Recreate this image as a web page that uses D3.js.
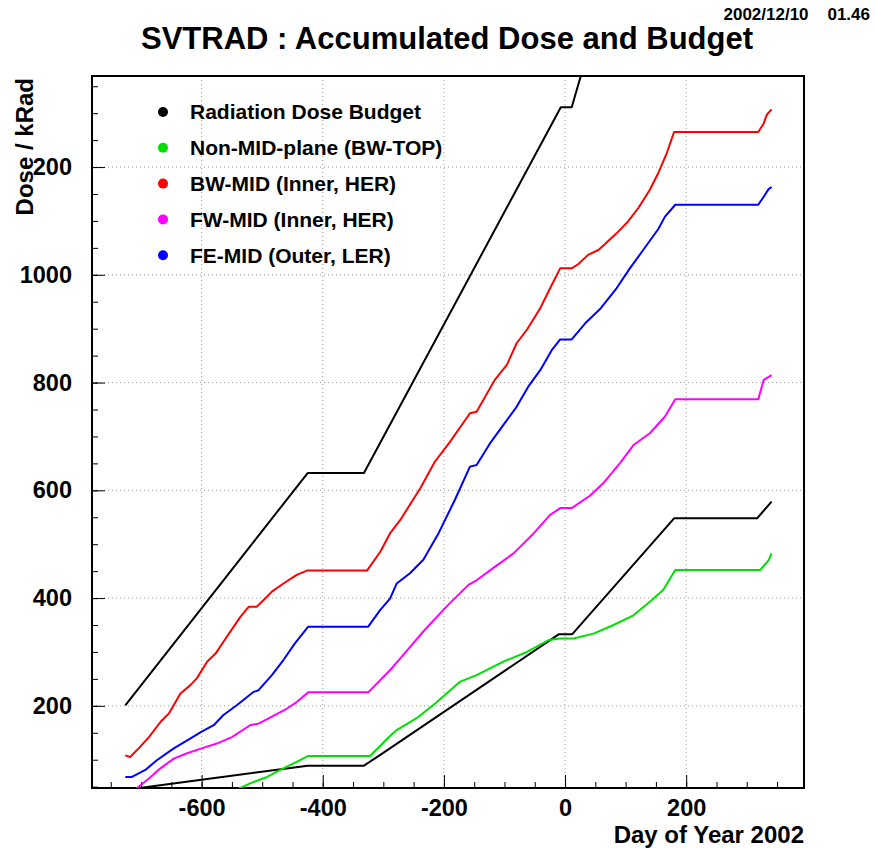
<!DOCTYPE html>
<html>
<head>
<meta charset="utf-8">
<script src="https://cdn.jsdelivr.net/npm/d3@7"></script>
<style>
  body { margin: 0; background: #fff; }
  text { font-family: "Liberation Sans", Arial, sans-serif; font-weight: bold; }
</style>
</head>
<body>
<script>
// series: day of year 2002 vs accumulated dose (kRad)
var budgetHighDays = [-726, -425, -332, -7, 11, 26];
var budgetHighDose = [201, 632, 632, 1311, 1311, 1369];

var budgetLowDays = [-726, -425, -332, -305, -10, 12, 180, 317, 341];
var budgetLowDose = [44, 89, 89, 109, 333, 333, 548, 548, 579];

var greenDays = [-560, -545, -520, -492, -465, -443, -424, -322, -305, -289, -278, -245, -215, -173, -146, -102, -63, -27, -8, 14, 47, 80, 113, 140, 162, 182, 322, 336, 341];
var greenDose = [35, 43, 56, 68, 84, 96, 107, 107, 126, 144, 155, 177, 204, 245, 257, 282, 300, 322, 325, 325, 334, 350, 368, 393, 415, 452, 452, 470, 483];

var redDays = [-726, -718, -704, -687, -668, -654, -635, -619, -608, -591, -577, -564, -547, -536, -522, -509, -498, -484, -465, -443, -426, -327, -305, -289, -272, -239, -215, -190, -157, -146, -116, -96, -80, -63, -41, -22, -8, 11, 22, 38, 55, 66, 85, 104, 121, 140, 154, 168, 180, 319, 328, 333, 341];
var redDose = [108, 105, 121, 142, 170, 186, 223, 238, 251, 282, 297, 319, 347, 365, 384, 384, 396, 412, 427, 443, 451, 451, 486, 520, 545, 604, 653, 690, 743, 746, 805, 833, 873, 898, 938, 981, 1012, 1012, 1020, 1037, 1046, 1057, 1077, 1099, 1124, 1158, 1189, 1226, 1265, 1265, 1281, 1297, 1307];

var magentaDays = [-726, -704, -687, -668, -646, -624, -600, -575, -550, -520, -506, -484, -459, -443, -424, -325, -289, -272, -234, -195, -159, -146, -116, -85, -52, -25, -8, 11, 41, 63, 91, 113, 140, 165, 182, 319, 328, 341];
var magentaDose = [30, 50, 65, 84, 102, 112, 121, 130, 142, 164, 167, 180, 195, 207, 225, 225, 266, 288, 338, 385, 425, 433, 458, 483, 520, 554, 567, 567, 590, 613, 651, 684, 706, 737, 769, 769, 805, 814];

var blueDays = [-726, -715, -693, -674, -646, -619, -600, -580, -564, -542, -514, -506, -484, -465, -446, -424, -325, -305, -289, -278, -256, -234, -209, -182, -157, -146, -124, -102, -80, -61, -41, -22, -8, 11, 35, 59, 85, 107, 129, 154, 165, 182, 319, 328, 336, 341];
var blueDose = [68, 68, 81, 99, 121, 139, 152, 164, 183, 201, 226, 229, 257, 285, 316, 347, 347, 378, 399, 427, 446, 471, 520, 582, 644, 647, 687, 721, 755, 792, 823, 860, 880, 880, 912, 938, 975, 1012, 1046, 1085, 1108, 1130, 1130, 1145, 1159, 1163];

var legendLabels = ['Radiation Dose Budget', 'Non-MID-plane (BW-TOP)', 'BW-MID (Inner, HER)', 'FW-MID (Inner, HER)', 'FE-MID (Outer, LER)'];
var legendColors = ['#000000', '#00e000', '#ff0000', '#ff00ff', '#0000ff'];

var xMajorTicks = [-600, -400, -200, 0, 200];
var xTickLabels = ['-600', '-400', '-200', '0', '200'];
var yMajorTicks = [200, 400, 600, 800, 1000, 1200];
var yTickLabels = ['200', '400', '600', '800', '1000', '200'];

var W = 875, H = 848;
var L = 92, R = 804, T = 76, B = 788;

var svg = d3.select('body').append('svg')
  .attr('width', W)
  .attr('height', H);

var x = d3.scaleLinear().domain([-781, 394.5]).range([L, R]);
var y = d3.scaleLinear().domain([47.5, 1369]).range([B, T]);

svg.append('defs').append('clipPath')
  .attr('id', 'frame')
  .append('rect')
    .attr('x', L).attr('y', T)
    .attr('width', R - L).attr('height', B - T);

// dotted grid
var grid = svg.append('g')
  .style('stroke', '#999')
  .style('stroke-width', 1)
  .style('stroke-dasharray', '1,3');
grid.selectAll('.gx').data(xMajorTicks).enter().append('line')
  .attr('x1', function (d) { return x(d); })
  .attr('x2', function (d) { return x(d); })
  .attr('y1', T).attr('y2', B);
grid.selectAll('.gy').data(yMajorTicks).enter().append('line')
  .attr('y1', function (d) { return y(d); })
  .attr('y2', function (d) { return y(d); })
  .attr('x1', L).attr('x2', R);

// axes, ROOT style ticks pointing inward
var xAxis = d3.axisBottom(x)
  .tickValues(d3.range(-750, 395, 50))
  .tickSize(-6)
  .tickFormat('');
svg.append('g').attr('transform', 'translate(0,' + B + ')').call(xAxis);
var xMaj = svg.append('g').attr('transform', 'translate(0,' + B + ')')
  .call(d3.axisBottom(x).tickValues(xMajorTicks).tickSize(-13)
    .tickFormat(function (d, i) { return xTickLabels[i]; }));

var yAxis = d3.axisLeft(y)
  .tickValues(d3.range(50, 1369, 50))
  .tickSize(-6)
  .tickFormat('');
svg.append('g').attr('transform', 'translate(' + L + ',0)').call(yAxis);
var yMaj = svg.append('g').attr('transform', 'translate(' + L + ',0)')
  .call(d3.axisLeft(y).tickValues(yMajorTicks).tickSize(-13)
    .tickFormat(function (d, i) { return yTickLabels[i]; }));

svg.selectAll('.domain').remove();
svg.selectAll('.tick line').style('stroke', '#000').style('stroke-width', 1);
svg.selectAll('.tick text')
  .style('font-size', '23.5px')
  .style('font-family', '"Liberation Sans", Arial, sans-serif')
  .style('font-weight', 'bold')
  .attr('fill', '#000');
xMaj.selectAll('.tick text').attr('y', 11);
yMaj.selectAll('.tick text').attr('x', -20);

// frame
svg.append('rect')
  .attr('x', L).attr('y', T)
  .attr('width', R - L).attr('height', B - T)
  .style('fill', 'none')
  .style('stroke', '#000')
  .style('stroke-width', 2);

var line = d3.line()
  .x(function (d) { return x(d[0]); })
  .y(function (d) { return y(d[1]); });

var series = [
  { days: budgetHighDays, dose: budgetHighDose, color: legendColors[0] },
  { days: budgetLowDays, dose: budgetLowDose, color: legendColors[0] },
  { days: greenDays, dose: greenDose, color: legendColors[1] },
  { days: redDays, dose: redDose, color: legendColors[2] },
  { days: magentaDays, dose: magentaDose, color: legendColors[3] },
  { days: blueDays, dose: blueDose, color: legendColors[4] }
];

svg.append('g').attr('clip-path', 'url(#frame)')
  .selectAll('path').data(series).enter().append('path')
    .attr('d', function (s) { return line(d3.zip(s.days, s.dose)); })
    .style('fill', 'none')
    .style('stroke', function (s) { return s.color; })
    .style('stroke-width', 2)
    .style('stroke-linejoin', 'round');

// legend
var leg = svg.append('g').selectAll('g').data(legendLabels).enter().append('g')
  .attr('transform', function (d, i) { return 'translate(163,' + (112 + i * 35.8) + ')'; });
leg.append('circle')
  .attr('r', 5)
  .style('fill', function (d, i) { return legendColors[i]; });
leg.append('text')
  .attr('x', 27)
  .attr('dy', '0.35em')
  .style('font-size', '21px')
  .text(function (d) { return d; });

// titles
svg.append('text')
  .attr('x', 447).attr('y', 49)
  .attr('text-anchor', 'middle')
  .style('font-size', '31px')
  .text('SVTRAD : Accumulated Dose and Budget');
svg.append('text')
  .attr('x', 870).attr('y', 20)
  .attr('text-anchor', 'end')
  .style('font-size', '17px')
  .style('white-space', 'pre')
  .text('2002/12/10    01.46');
svg.append('text')
  .attr('x', R).attr('y', 843)
  .attr('text-anchor', 'end')
  .style('font-size', '24px')
  .text('Day of Year 2002');
svg.append('text')
  .attr('transform', 'translate(33,78) rotate(-90)')
  .attr('text-anchor', 'end')
  .style('font-size', '24px')
  .text('Dose / kRad');
</script>
</body>
</html>
